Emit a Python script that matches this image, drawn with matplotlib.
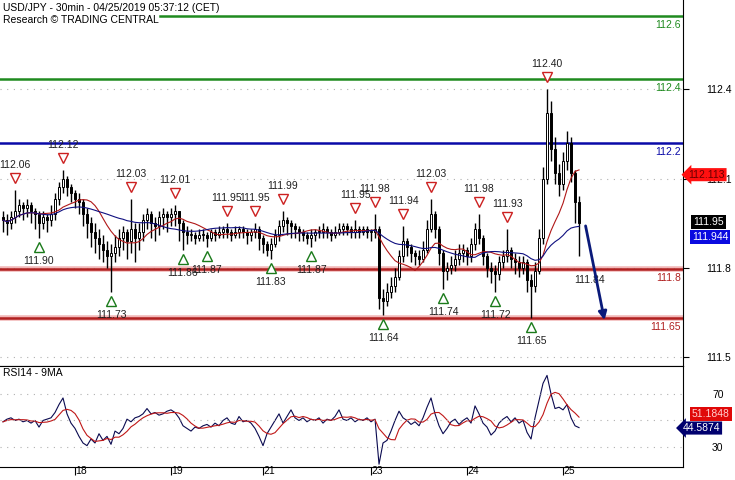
import numpy as np
import pandas as pd
import matplotlib
matplotlib.use("Agg")
import matplotlib.pyplot as plt
from matplotlib.transforms import offset_copy, blended_transform_factory

# hourly candles
c = [111.96, 111.95, 111.97, 111.99, 112.01, 112.00, 112.01, 111.99, 111.98, 111.95,
     111.97, 111.96, 111.98, 112.03, 112.07, 112.10, 112.07, 112.05, 112.03, 112.02,
     111.98, 111.95, 111.92, 111.90, 111.88, 111.86, 111.84, 111.85, 111.87, 111.90,
     111.92, 111.89, 111.93, 111.90, 111.92, 111.96, 111.98, 111.95, 111.94, 111.97,
     111.98, 111.97, 111.98, 111.99, 111.95, 111.92, 111.91, 111.91, 111.90, 111.91,
     111.91, 111.90, 111.92, 111.91, 111.92, 111.93, 111.92, 111.91, 111.92, 111.93,
     111.92, 111.91, 111.92, 111.93, 111.90, 111.88, 111.86, 111.88, 111.91, 111.94,
     111.96, 111.95, 111.94, 111.93, 111.92, 111.91, 111.90, 111.91, 111.92, 111.92,
     111.93, 111.92, 111.91, 111.92, 111.93, 111.94, 111.93, 111.92, 111.93, 111.92,
     111.93, 111.92, 111.92, 111.93, 111.70, 111.69, 111.72, 111.74, 111.77, 111.84,
     111.89, 111.87, 111.85, 111.84, 111.83, 111.86, 111.93, 111.98, 111.93, 111.85,
     111.79, 111.80, 111.81, 111.83, 111.85, 111.86, 111.84, 111.88, 111.93, 111.90,
     111.84, 111.80, 111.79, 111.78, 111.82, 111.84, 111.86, 111.83, 111.82, 111.80,
     111.82, 111.76, 111.74, 111.79, 111.90, 112.10, 112.32, 112.20, 112.12, 112.08,
     112.16, 112.22, 112.12, 112.02, 111.95]
h = [111.99, 111.98, 111.99, 112.06, 112.03, 112.02, 112.03, 112.02, 112.00, 111.99,
     111.99, 111.98, 112.01, 112.05, 112.09, 112.13, 112.11, 112.08, 112.06, 112.05,
     112.03, 112.00, 111.97, 111.95, 111.93, 111.91, 111.89, 111.88, 111.91, 111.93,
     111.94, 111.93, 112.03, 111.95, 111.95, 111.98, 112.00, 111.99, 111.97, 111.99,
     112.00, 111.99, 112.00, 112.01, 111.99, 111.96, 111.94, 111.93, 111.92, 111.93,
     111.93, 111.92, 111.93, 111.93, 111.94, 111.94, 111.95, 111.93, 111.94, 111.94,
     111.94, 111.93, 111.93, 111.95, 111.94, 111.91, 111.89, 111.90, 111.93, 111.96,
     111.99, 111.97, 111.96, 111.95, 111.94, 111.93, 111.92, 111.93, 111.93, 111.94,
     111.95, 111.94, 111.93, 111.94, 111.95, 111.95, 111.95, 111.94, 111.96, 111.94,
     111.94, 111.94, 111.93, 111.98, 111.94, 111.73, 111.75, 111.77, 111.80, 111.86,
     111.94, 111.90, 111.88, 111.86, 111.86, 111.89, 111.96, 112.03, 111.99, 111.94,
     111.86, 111.82, 111.84, 111.86, 111.88, 111.88, 111.87, 111.90, 111.95, 111.98,
     111.91, 111.85, 111.82, 111.81, 111.84, 111.86, 111.93, 111.87, 111.85, 111.84,
     111.84, 111.83, 111.78, 111.82, 111.93, 112.14, 112.40, 112.36, 112.24, 112.15,
     112.19, 112.26, 112.24, 112.13, 112.04]
l = [111.92, 111.91, 111.93, 111.95, 111.97, 111.96, 111.97, 111.95, 111.93, 111.90,
     111.93, 111.92, 111.94, 111.96, 112.01, 112.05, 112.04, 112.02, 112.00, 111.98,
     111.94, 111.90, 111.87, 111.85, 111.83, 111.82, 111.80, 111.72, 111.82, 111.84,
     111.86, 111.83, 111.85, 111.82, 111.86, 111.89, 111.93, 111.90, 111.89, 111.91,
     111.93, 111.92, 111.94, 111.94, 111.89, 111.86, 111.88, 111.89, 111.88, 111.89,
     111.89, 111.87, 111.89, 111.89, 111.90, 111.90, 111.90, 111.89, 111.90, 111.90,
     111.90, 111.88, 111.89, 111.90, 111.86, 111.85, 111.84, 111.83, 111.87, 111.89,
     111.92, 111.91, 111.90, 111.90, 111.89, 111.89, 111.88, 111.87, 111.89, 111.90,
     111.90, 111.90, 111.89, 111.90, 111.91, 111.91, 111.91, 111.90, 111.90, 111.90,
     111.91, 111.90, 111.89, 111.90, 111.66, 111.64, 111.67, 111.70, 111.72, 111.76,
     111.82, 111.84, 111.82, 111.81, 111.81, 111.82, 111.85, 111.92, 111.90, 111.81,
     111.73, 111.76, 111.78, 111.79, 111.81, 111.82, 111.81, 111.82, 111.86, 111.88,
     111.81, 111.77, 111.75, 111.72, 111.76, 111.80, 111.82, 111.80, 111.78, 111.77,
     111.78, 111.72, 111.63, 111.72, 111.78, 111.88, 112.08, 112.16, 112.08, 112.04,
     112.06, 112.13, 112.09, 111.95, 111.84]
first_open = 111.97

rsi = [49, 51, 52, 50, 51, 49, 50, 48, 50, 45,
       50, 51, 52, 56, 62, 67, 55, 48, 44, 38,
       33, 31, 36, 33, 40, 35, 38, 32, 42, 40,
       44, 51, 49, 52, 53, 55, 59, 55, 56, 54,
       55, 57, 58, 56, 52, 46, 44, 42, 45, 44,
       46, 47, 45, 48, 46, 50, 52, 48, 47, 53,
       49, 50, 48, 44, 38, 31, 40, 45, 50, 55,
       48, 53, 58, 52, 50, 52, 49, 51, 50, 52,
       48, 51, 50, 53, 58, 51, 50, 52, 49, 51,
       50, 52, 49, 51, 17, 33, 35, 42, 50, 57,
       52, 50, 47, 49, 46, 52, 60, 67, 55, 46,
       40, 44, 49, 51, 47, 50, 52, 48, 61, 55,
       48, 45, 39, 42, 48, 51, 53, 49, 52, 48,
       50, 41, 36, 52, 65, 78, 84, 70, 59, 60,
       58, 62, 52, 46, 44.6]

# swing highs / lows marked on the chart
peak_idx = [3, 15, 32, 43, 56, 63, 70, 88, 93, 100, 107, 119, 126, 136]
peak_txt = ["112.06", "112.12", "112.03", "112.01", "111.95", "111.95", "111.99",
            "111.95", "111.98", "111.94", "112.03", "111.98", "111.93", "112.40"]
trough_idx = [9, 27, 45, 51, 67, 77, 95, 110, 123, 132]
trough_txt = ["111.90", "111.73", "111.86", "111.87", "111.83", "111.87",
              "111.64", "111.74", "111.72", "111.65"]

levels = [112.645, 112.434, 112.219, 111.797, 111.632]
level_txt = ["112.6", "112.4", "112.2", "111.8", "111.65"]
level_col = ["#1f8a1f", "#1f8a1f", "#0a0aa8", "#b02020", "#b02020"]
target = 111.615

day_pos = [18, 42, 65, 92, 116, 140]
day_txt = ["18", "19", "21", "23", "24", "25"]

plt.rcParams['font.family'] = ['Liberation Sans', 'DejaVu Sans']
plt.rcParams['font.size'] = 7.5

fig = plt.figure(figsize=(7.35, 4.8), dpi=100)
ax = fig.add_axes([0, 0.2375, 0.9293, 0.7625])
ax2 = fig.add_axes([0, 0.0271, 0.9293, 0.2104])

x = np.arange(len(c))
o = np.array([first_open] + c[:-1])
cc = np.array(c)
up = cc >= o

# candles
ax.vlines(x, l, h, color="black", linewidth=1.0, zorder=3)
body_lo = np.minimum(o, cc)
body_h = np.maximum(np.abs(cc - o), 0.004)
ax.bar(x, body_h, bottom=body_lo, width=0.7,
       color=np.where(up, "white", "black"), edgecolor="black", linewidth=0.7, zorder=4)

# moving averages
s = pd.Series(c)
ax.plot(x, s.rolling(10, min_periods=1).mean(), color="#b01818", lw=0.8, zorder=5)
ax.plot(x, s.rolling(25, min_periods=1).mean(), color="#101080", lw=0.8, zorder=5)

# support / resistance
for lv, tx, col in zip(levels, level_txt, level_col):
    xmin = 0.234 if lv > 112.6 else 0
    if col == "#b02020":
        ax.axhline(lv, xmin=xmin, color="#f2b8b8", lw=4, zorder=1)
    ax.axhline(lv, xmin=xmin, color=col, lw=1.8, zorder=2)
    ax.annotate(tx, xy=(1, lv), xycoords=blended_transform_factory(ax.transAxes, ax.transData),
                xytext=(-2, -9), textcoords="offset pixels", ha="right", va="center",
                color=col, fontsize=7.5)

# swing markers
dn = offset_copy(ax.transData, fig=fig, x=0, y=12, units="dots")
upt = offset_copy(ax.transData, fig=fig, x=0, y=-9, units="dots")
ph = [h[i] for i in peak_idx]
tl = [l[i] for i in trough_idx]
ax.plot(peak_idx, ph, "v", ms=7, mfc="white", mec="#cc2020", mew=1, ls="none", transform=dn, zorder=6)
ax.plot(trough_idx, tl, "^", ms=7, mfc="white", mec="#1a7a1a", mew=1, ls="none", transform=upt, zorder=6)
for i, y, t in zip(peak_idx, ph, peak_txt):
    ax.annotate(t, xy=(i, y), xytext=(0, 25), textcoords="offset pixels",
                ha="center", va="center", fontsize=7.5, color="#202020", zorder=7)
for i, y, t in zip(trough_idx, tl, trough_txt):
    ax.annotate(t, xy=(i, y), xytext=(0, -23), textcoords="offset pixels",
                ha="center", va="center", fontsize=7.5, color="#202020", zorder=7)
ax.annotate("111.84", xy=(x[-1], l[-1]), xytext=(10, -24), textcoords="offset pixels",
            ha="center", va="center", fontsize=7.5, color="#202020", zorder=7)

# forecast arrow
ax.annotate("", xy=(len(c) + 5.5, target), xytext=(len(c) + 0.5, c[-1]),
            arrowprops=dict(arrowstyle="-|>", color="#0a1a7a", lw=2, mutation_scale=12), zorder=8)

ax.set_xlim(-0.75, 170)
ax.set_ylim(111.47, 112.70)
ax.yaxis.tick_right()
ax.set_yticks([111.5, 111.8, 112.1, 112.4])
ax.set_yticklabels(["111.5", "111.8", "112.1", "112.4"])
ax.tick_params(axis="y", direction="out", length=4, width=0.8, pad=21.6, labelsize=7.5)
for lb in ax.get_yticklabels():
    lb.set_horizontalalignment("center")
ax.set_xticks([])
ax.grid(axis="y", color="#b0b0b0", linestyle=(0, (1, 5)), linewidth=0.8)
ax.spines["left"].set_visible(False)
ax.spines["top"].set_visible(False)

tr = blended_transform_factory(ax.transAxes, ax.transData)
ax.text(1.008, 112.113, "112.113", transform=tr, ha="left", va="center", color="#6a0000",
        fontsize=7.5, bbox=dict(boxstyle="larrow,pad=0.15", fc="#ff1010", ec="none"),
        clip_on=False, zorder=9)
ax.text(1.015, 111.954, "111.95", transform=tr, ha="left", va="center", color="white",
        fontsize=7.5, bbox=dict(boxstyle="square,pad=0.2", fc="black", ec="none"), clip_on=False)
ax.text(1.013, 111.903, "111.944", transform=tr, ha="left", va="center", color="white",
        fontsize=7.5, bbox=dict(boxstyle="square,pad=0.2", fc="#0a0ae0", ec="none"), clip_on=False)

# RSI panel
r = pd.Series(rsi)
ax2.plot(x, r, color="#0a0a50", lw=0.8)
ax2.plot(x, r.rolling(5, min_periods=1).mean(), color="#c01818", lw=0.8)
ax2.set_xlim(-0.75, 170)
ax2.set_ylim(14.9, 91.1)
ax2.yaxis.tick_right()
ax2.set_yticks([30, 70])
ax2.tick_params(axis="y", length=0, pad=25, labelsize=7.5)
for lb in ax2.get_yticklabels():
    lb.set_horizontalalignment("center")
for gy in [30, 50, 70]:
    ax2.axhline(gy, color="#b0b0b0", linestyle=(0, (1, 5)), linewidth=0.8)
ax2.spines["left"].set_visible(False)
ax2.set_xticks(day_pos)
ax2.set_xticklabels(day_txt)
ax2.tick_params(axis="x", direction="out", length=6, width=0.8, pad=-7, labelsize=7.5)
for lb in ax2.get_xticklabels():
    lb.set_horizontalalignment("left")
ax2.text(0.004, 0.93, "RSI14 - 9MA", transform=ax2.transAxes, ha="left", va="center", fontsize=7.5)
tr2 = blended_transform_factory(ax2.transAxes, ax2.transData)
ax2.text(1.013, 54.9, "51.1848", transform=tr2, ha="left", va="center", color="#ffd0d0",
         fontsize=7.5, bbox=dict(boxstyle="square,pad=0.2", fc="#e00808", ec="none"), clip_on=False)
ax2.text(1.0, 44.3, "44.5874", transform=tr2, ha="left", va="center", color="white",
         fontsize=7.5, bbox=dict(boxstyle="larrow,pad=0.15", fc="#00006e", ec="none"), clip_on=False)

fig.text(3 / 735, 1 - 8 / 480, "USD/JPY - 30min - 04/25/2019 05:37:12 (CET)", ha="left", va="center", fontsize=7.5)
fig.text(3 / 735, 1 - 20 / 480, "Research \u00a9 TRADING CENTRAL", ha="left", va="center", fontsize=7.5)

fig.savefig("out.png", dpi=100)
